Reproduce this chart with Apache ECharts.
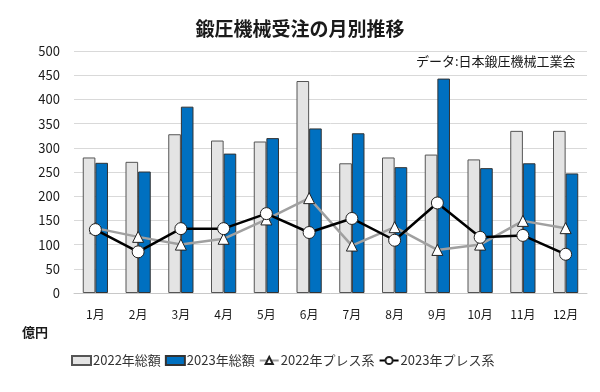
<!DOCTYPE html>
<html><head><meta charset="utf-8">
<script src="https://cdn.jsdelivr.net/npm/echarts@6/dist/echarts.min.js"></script>
<style>html,body{margin:0;padding:0;background:#fff}#c{width:600px;height:392px}</style>
</head><body><div id="c"></div>
<script>
const categories = ['1月','2月','3月','4月','5月','6月','7月','8月','9月','10月','11月','12月'];
const total2022 = [280, 271, 328, 315, 313, 438, 268, 280, 286, 276, 335, 335];
const total2023 = [269, 251, 385, 288, 320, 340, 330, 260, 443, 258, 268, 247];
const press2022 = [134, 116, 100, 112, 152, 196, 98, 136, 89, 100, 149, 134];
const press2023 = [131, 85, 133, 133, 164, 125, 154, 109, 186, 115, 119, 80];
const yTicks = [0, 50, 100, 150, 200, 250, 300, 350, 400, 450, 500];

const FONT = '"Noto Sans CJK JP", "Noto Sans", sans-serif';
const chart = echarts.init(document.getElementById('c'));
chart.setOption({
  backgroundColor: '#fff',
  textStyle: { fontFamily: FONT },
  title: {
    text: '鍛圧機械受注の月別推移',
    left: 'center', top: 14,
    textStyle: { fontFamily: FONT, fontSize: 19, fontWeight: 'bold', color: '#1a1a1a' }
  },
  graphic: [
    { type: 'text', left: 416, top: 55, style: { text: 'データ:日本鍛圧機械工業会', fontFamily: FONT, fontSize: 13, fill: '#1a1a1a' } },
    { type: 'text', left: 22, top: 326, style: { text: '億円', fontFamily: FONT, fontSize: 13, fontWeight: 'bold', fill: '#1a1a1a' } }
  ],
  legend: {
    bottom: 20, left: 66,
    itemWidth: 19, itemHeight: 9, itemGap: 4,
    textStyle: { fontFamily: FONT, fontSize: 13, color: '#333', padding: [0, 0, 0, -3] },
    data: [
      { name: '2022年総額', icon: 'rect' },
      { name: '2023年総額', icon: 'rect' },
      { name: '2022年プレス系' },
      { name: '2023年プレス系' }
    ]
  },
  grid: { left: 74, right: 13, top: 51, bottom: 99 },
  xAxis: {
    type: 'category', data: categories,
    axisLine: { lineStyle: { color: '#c8c8c8' } },
    axisTick: { show: false },
    axisLabel: { fontFamily: FONT, fontSize: 12, color: '#1a1a1a', margin: 15 }
  },
  yAxis: {
    type: 'value', min: yTicks[0], max: yTicks[yTicks.length - 1], interval: 50,
    axisLine: { show: false }, axisTick: { show: false },
    axisLabel: { fontFamily: FONT, fontSize: 13, color: '#1a1a1a', margin: 14 },
    splitLine: { lineStyle: { color: '#d9d9d9' } }
  },
  series: [
    { name: '2022年総額', type: 'bar', data: total2022, barGap: '0%', barCategoryGap: '41%',
      itemStyle: { color: '#e4e4e4', borderColor: '#555', borderWidth: 1 } },
    { name: '2023年総額', type: 'bar', data: total2023,
      itemStyle: { color: '#0070c0', borderColor: '#333', borderWidth: 1 } },
    { name: '2022年プレス系', type: 'line', data: press2022, symbol: 'triangle', symbolSize: 11,
      lineStyle: { color: '#a0a0a0', width: 2.5 },
      itemStyle: { color: '#fff', borderColor: '#222', borderWidth: 1 }, z: 3 },
    { name: '2023年プレス系', type: 'line', data: press2023, symbol: 'circle', symbolSize: 12,
      lineStyle: { color: '#000', width: 2.5 },
      itemStyle: { color: '#fff', borderColor: '#222', borderWidth: 1 }, z: 4 }
  ]
});
</script></body></html>
